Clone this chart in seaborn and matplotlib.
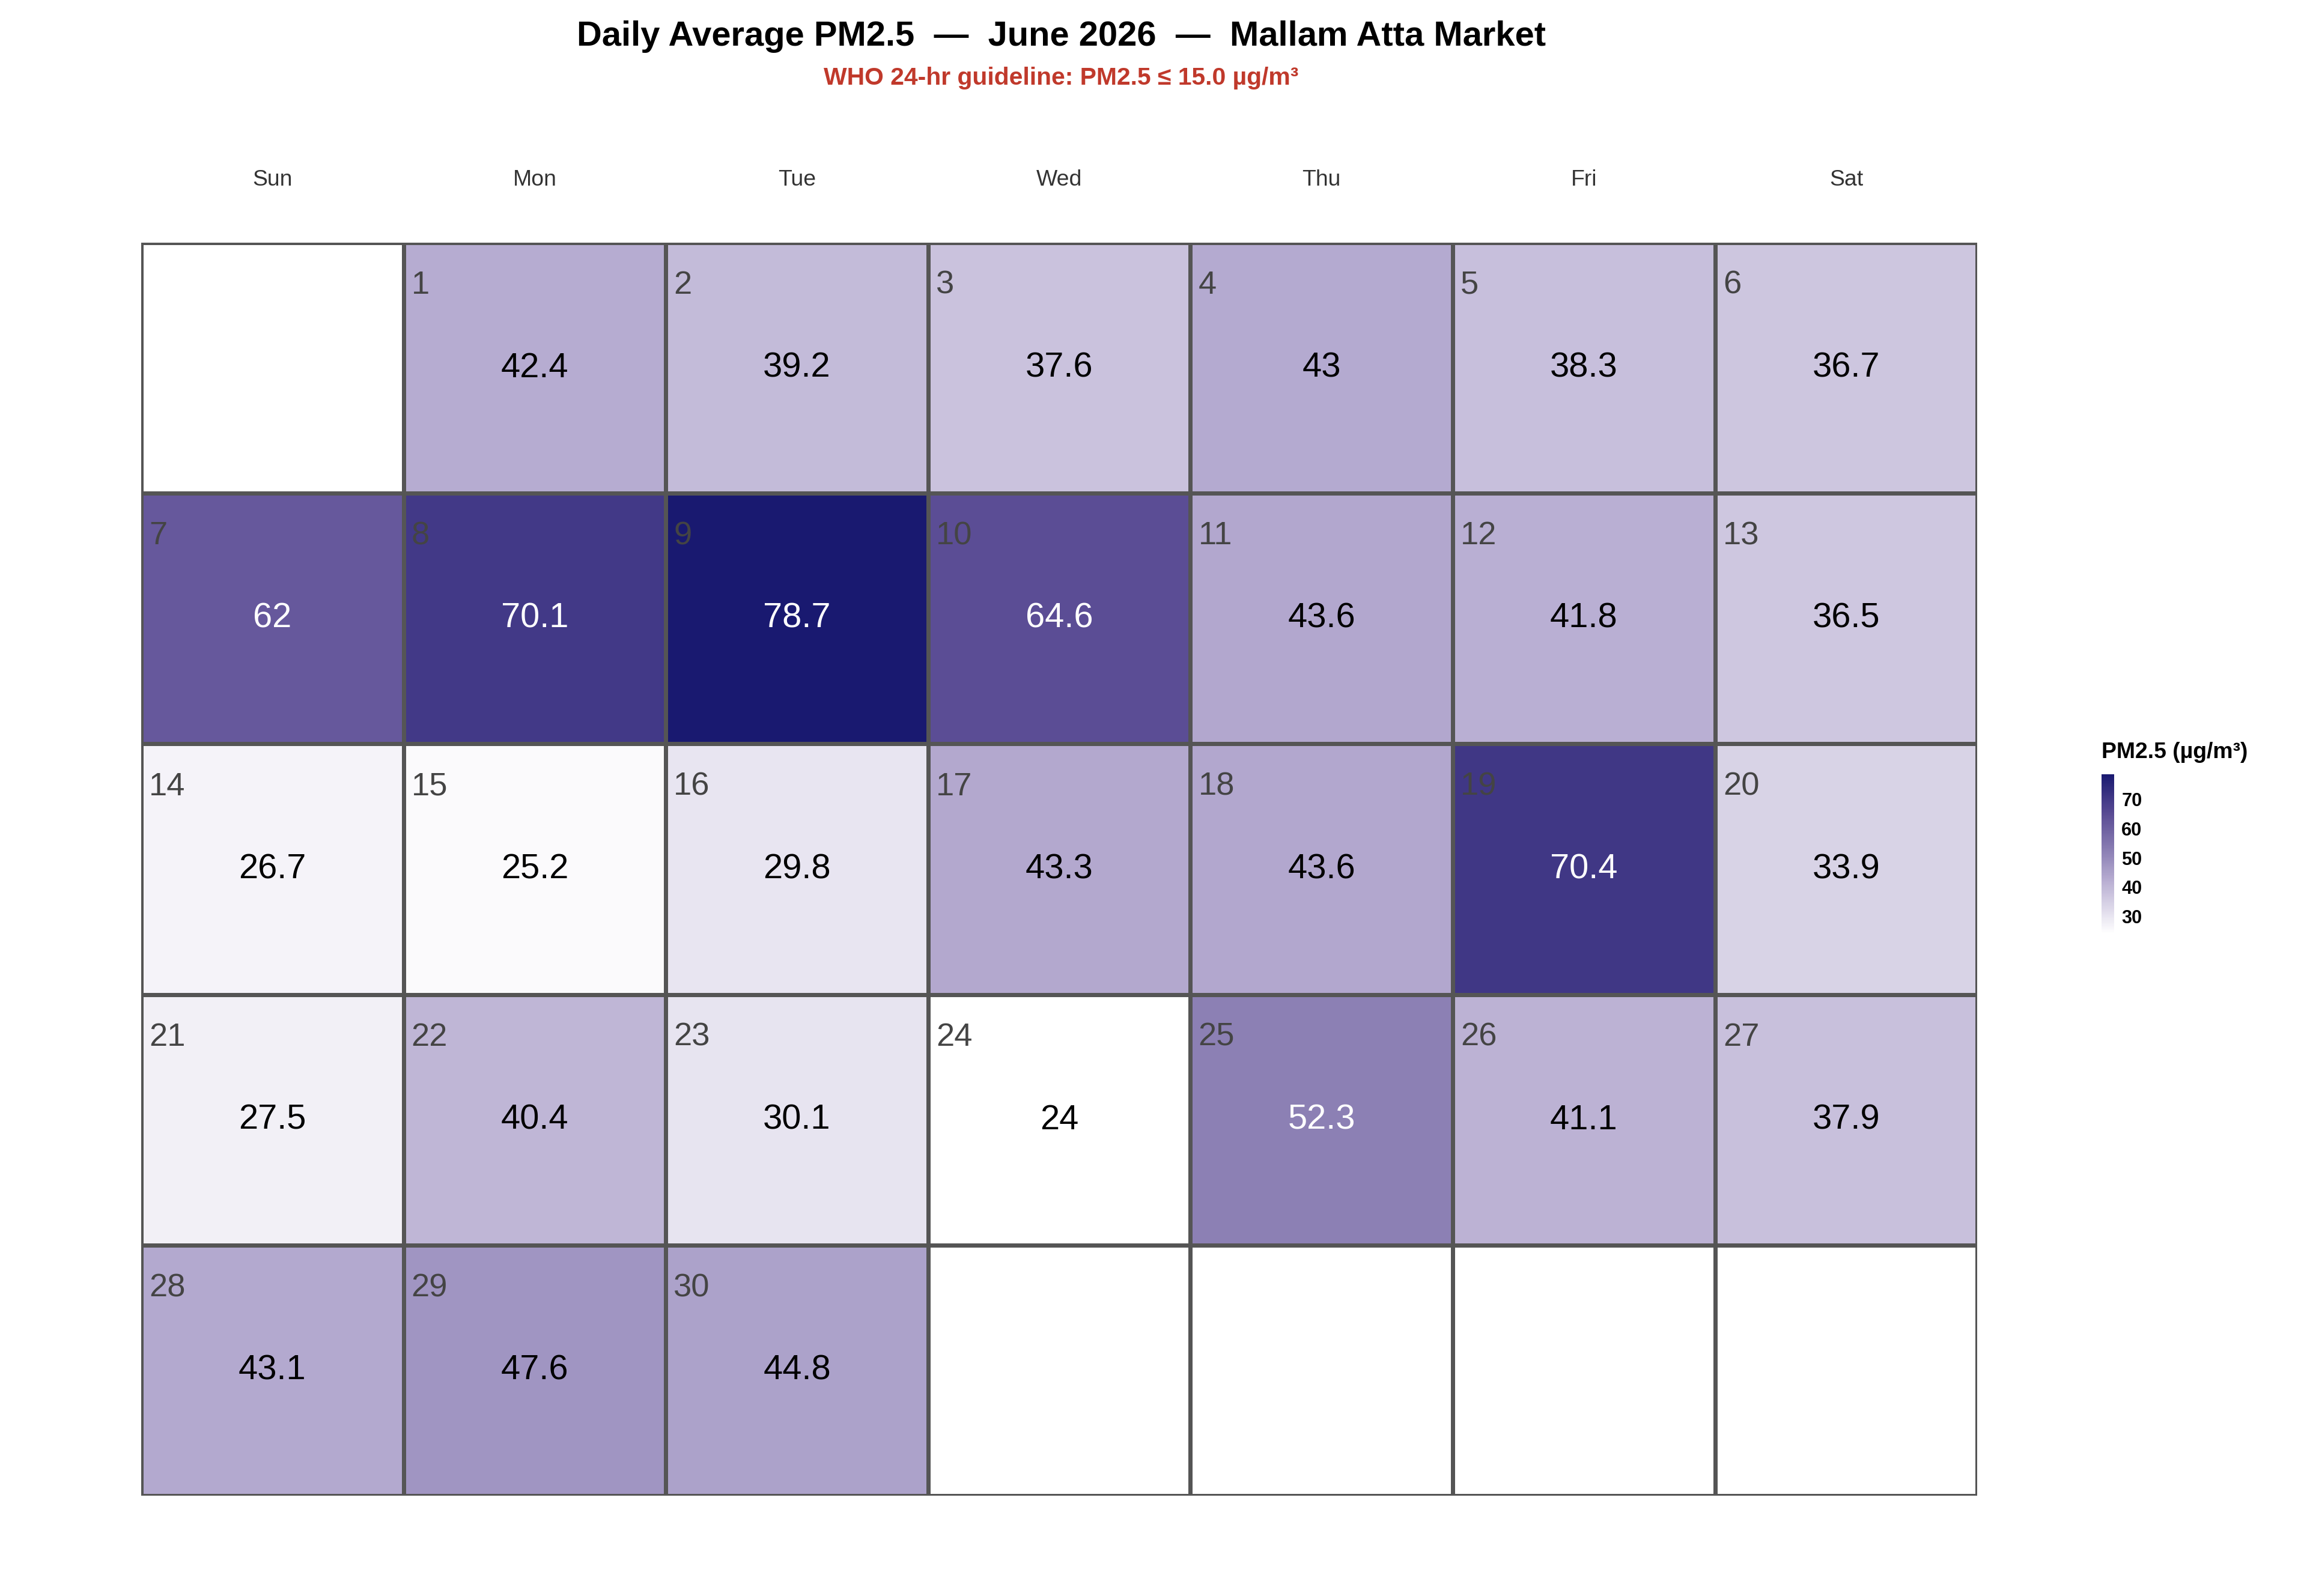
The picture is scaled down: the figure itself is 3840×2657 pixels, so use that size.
import numpy as np
import matplotlib.pyplot as plt
import seaborn as sns
from matplotlib.colors import LinearSegmentedColormap

plt.rcParams['font.family'] = ['Liberation Sans', 'DejaVu Sans']

weekdays = ["Sun", "Mon", "Tue", "Wed", "Thu", "Fri", "Sat"]
pm25 = [42.4, 39.2, 37.6, 43.0, 38.3, 36.7,
        62.0, 70.1, 78.7, 64.6, 43.6, 41.8, 36.5,
        26.7, 25.2, 29.8, 43.3, 43.6, 70.4, 33.9,
        27.5, 40.4, 30.1, 24.0, 52.3, 41.1, 37.9,
        43.1, 47.6, 44.8]
first_weekday = 1  # June 1 2026 is Monday

grid = np.full((5, 7), np.nan)
days = np.zeros((5, 7), dtype=int)
for i, v in enumerate(pm25):
    pos = i + first_weekday
    grid[pos // 7, pos % 7] = v
    days[pos // 7, pos % 7] = i + 1

annot = np.where(np.isnan(grid), "", np.vectorize(lambda v: "" if np.isnan(v) else f"{v:g}")(grid))

cmap = LinearSegmentedColormap.from_list(
    "pm", [(0, "#ffffff"), (0.33, "#b8aed2"), (0.52, "#8b7fb4"), (0.75, "#5a4c94"), (1, "#191970")])

fig = plt.figure(figsize=(15.68, 10.85), dpi=244.9)
ax = fig.add_axes([0.0612, 0.0627, 0.7959, 0.7853])
cax = fig.add_axes([0.911, 0.415, 0.0055, 0.1])

sns.heatmap(grid, ax=ax, cbar_ax=cax, cmap=cmap, vmin=24, vmax=78.7,
            mask=np.isnan(grid), annot=annot, fmt="", linewidths=2, linecolor="#555555",
            annot_kws={"fontsize": 17}, square=False)
for t in ax.texts:
    try:
        val = float(t.get_text())
        t.set_color("white" if val > 50 else "black")
    except ValueError:
        pass

for r in range(5):
    for c in range(7):
        if days[r, c]:
            ax.text(c + 0.03, r + 0.17, str(days[r, c]), fontsize=16, color="#444444",
                    ha="left", va="center")

ax.set_xticks([])
ax.set_yticks([])
for c, d in enumerate(weekdays):
    ax.text(c + 0.5, -0.25, d, ha="center", va="center", fontsize=11, color="#333333")

cax.set_title("PM2.5 (µg/m³)", fontsize=11, fontweight="bold", loc="left", pad=8)
cax.tick_params(labelsize=9, length=0)
for lab in cax.get_yticklabels():
    lab.set_fontweight("bold")
cax.set_yticks([30, 40, 50, 60, 70])

fig.text(0.46, 0.977, "Daily Average PM2.5  —  June 2026  —  Mallam Atta Market",
         ha="center", va="center", fontsize=17, fontweight="bold")
fig.text(0.46, 0.951, "WHO 24-hr guideline: PM2.5 ≤ 15.0 µg/m³",
         ha="center", va="center", fontsize=12, fontweight="bold", color="#c0392b")

fig.savefig("out.png")
